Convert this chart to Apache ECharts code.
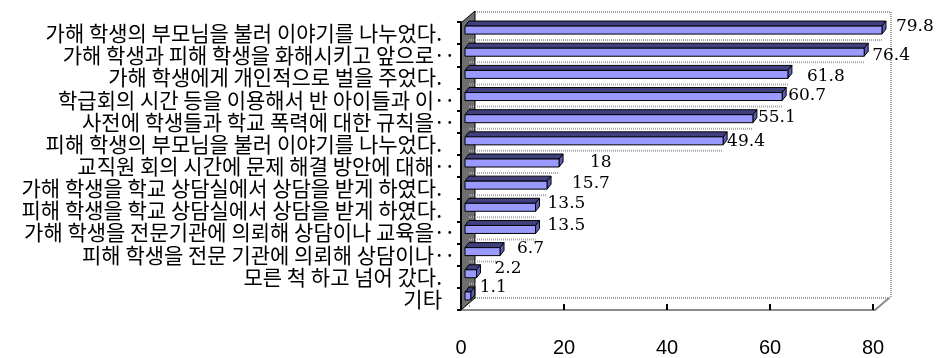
<!DOCTYPE html>
<html>
<head>
<meta charset="utf-8">
<script src="https://cdn.jsdelivr.net/npm/echarts@6/dist/echarts.min.js"></script>
<style>
  html, body { margin: 0; padding: 0; background: #ffffff; }
  #chart { width: 938px; height: 358px; }
</style>
</head>
<body>
<div id="chart"></div>
<script>
// Survey responses (%), one bar per response
const categories = [
  '가해 학생의 부모님을 불러 이야기를 나누었다.',
  '가해 학생과 피해 학생을 화해시키고 앞으로‥',
  '가해 학생에게 개인적으로 벌을 주었다.',
  '학급회의 시간 등을 이용해서 반 아이들과 이‥',
  '사전에 학생들과 학교 폭력에 대한 규칙을‥',
  '피해 학생의 부모님을 불러 이야기를 나누었다.',
  '교직원 회의 시간에 문제 해결 방안에 대해‥',
  '가해 학생을 학교 상담실에서 상담을 받게 하였다.',
  '피해 학생을 학교 상담실에서 상담을 받게 하였다.',
  '가해 학생을 전문기관에 의뢰해 상담이나 교육을‥',
  '피해 학생을 전문 기관에 의뢰해 상담이나‥',
  '모른 척 하고 넘어 갔다.',
  '기타'
];
const values = [79.8, 76.4, 61.8, 60.7, 55.1, 49.4, 18, 15.7, 13.5, 13.5, 6.7, 2.2, 1.1];
const xTicks = [0, 20, 40, 60, 80];

// Value-label nudges (px) relative to the end cap of each bar
const labelDx = [10, 4, 15, 2, 1, 0, 27, 21, 8, 8, 13, 14, 5];
const labelDy = [-3, 3, 2, -1, -1, 1, 0, -2, -4, -4, -3, -5, -8];

// 3D frame geometry: front plane and depth offset
const FRONT = { left: 461, top: 23, right: 873, bottom: 310 };
const DEPTH_X = 14, DEPTH_Y = 12;
const BAR_H = 8, BAR_DX = 4, BAR_DY = 5;

const chart = echarts.init(document.getElementById('chart'), null, { renderer: 'canvas' });

function renderBar(params, api) {
  const i = params.dataIndex;
  const v = api.value(0);
  const start = api.coord([0, api.value(1)]);
  const end = api.coord([v, api.value(1)]);
  const x0 = start[0], x1 = end[0], c = end[1];
  const top = c - BAR_H / 2, bot = c + BAR_H / 2;
  return {
    type: 'group',
    children: [
      {
        type: 'line',
        shape: { x1: x0 + BAR_DX, y1: bot + 6, x2: x1, y2: bot + 6 },
        style: { stroke: '#a8a8a8', lineWidth: 2, lineDash: [1, 1] }
      },
      {
        type: 'polygon',
        shape: { points: [[x0, top], [x1, top], [x1 + BAR_DX, top - BAR_DY], [x0 + BAR_DX, top - BAR_DY]] },
        style: { fill: '#40407f', stroke: '#000000', lineWidth: 1 }
      },
      {
        type: 'polygon',
        shape: { points: [[x1, top], [x1 + BAR_DX, top - BAR_DY], [x1 + BAR_DX, bot - BAR_DY], [x1, bot]] },
        style: { fill: '#5c5cb4', stroke: '#000000', lineWidth: 1 }
      },
      {
        type: 'rect',
        shape: { x: x0, y: top, width: x1 - x0, height: BAR_H },
        style: { fill: '#9999ff', stroke: '#000000', lineWidth: 1 }
      },
      {
        type: 'text',
        x: x1 + BAR_DX + labelDx[i],
        y: c + labelDy[i],
        style: {
          text: String(v),
          fill: '#000000',
          fontSize: 17,
          fontFamily: '"DejaVu Serif", "Liberation Serif", serif',
          align: 'left',
          verticalAlign: 'middle'
        }
      }
    ]
  };
}

const dotted = { stroke: '#a0a0a0', lineWidth: 2, lineDash: [1, 1] };
const bx = FRONT.left + DEPTH_X, by = FRONT.top - DEPTH_Y;
const rx = FRONT.right + DEPTH_X + 4, fy = FRONT.bottom - DEPTH_Y;

const option = {
  backgroundColor: '#ffffff',
  animation: false,
  grid: [
    { left: FRONT.left, top: 22, width: FRONT.right - FRONT.left, height: FRONT.bottom - 22 },
    { left: 465, top: 19, width: 418, height: 288 }
  ],
  xAxis: [
    {
      gridIndex: 0, type: 'value', min: xTicks[0], max: xTicks[xTicks.length - 1], interval: 20,
      axisLine: { show: true, lineStyle: { color: '#8c8c8c', width: 2 } },
      axisTick: { show: true, inside: true, length: 6, lineStyle: { color: '#000000', width: 2 } },
      splitLine: { show: false },
      axisLabel: {
        margin: 28, color: '#000000', fontSize: 20,
        fontFamily: '"Liberation Sans", Arial, sans-serif'
      }
    },
    {
      gridIndex: 1, type: 'value', min: 0, max: 80, show: false
    }
  ],
  yAxis: [
    {
      gridIndex: 0, type: 'category', data: categories, inverse: true,
      axisLine: { show: true, lineStyle: { color: '#000000', width: 2 } },
      axisTick: { show: true, length: 4, interval: 0, lineStyle: { color: '#000000', width: 2 } },
      axisLabel: {
        interval: 0,
        margin: 6, color: '#000000', fontSize: 21,
        fontFamily: '"Noto Sans CJK KR", sans-serif',
        formatter: (t) => t.endsWith('‥') ? t : t + '{sp| }',
        rich: { sp: { width: 13 } }
      }
    },
    {
      gridIndex: 1, type: 'category', data: categories, inverse: true, show: false
    }
  ],
  graphic: [
    // back wall top edge, right edge, floor back edge
    { type: 'line', z: 0, shape: { x1: bx, y1: by + 1, x2: rx, y2: by + 1 }, style: dotted },
    { type: 'line', z: 0, shape: { x1: rx, y1: by + 1, x2: rx, y2: fy }, style: dotted },
    { type: 'line', z: 0, shape: { x1: bx, y1: fy, x2: rx, y2: fy }, style: dotted },
    // left side wall
    {
      type: 'polygon', z: 0,
      shape: { points: [[FRONT.left, FRONT.top], [bx, by], [bx, fy], [FRONT.left, FRONT.bottom]] },
      style: { fill: '#6e6e6e', stroke: '#000000', lineWidth: 1 }
    },
    // floor front-right corner
    {
      type: 'polyline', z: 0,
      shape: { points: [[FRONT.right, FRONT.bottom], [FRONT.right + 2, FRONT.bottom], [rx - 2, fy]] },
      style: { stroke: '#8c8c8c', lineWidth: 2, fill: null }
    }
  ],
  series: [
    {
      type: 'custom',
      xAxisIndex: 1,
      yAxisIndex: 1,
      z: 3,
      renderItem: renderBar,
      encode: { x: 0, y: 1 },
      data: values.map((v, i) => [v, i])
    }
  ]
};

chart.setOption(option);
</script>
</body>
</html>
